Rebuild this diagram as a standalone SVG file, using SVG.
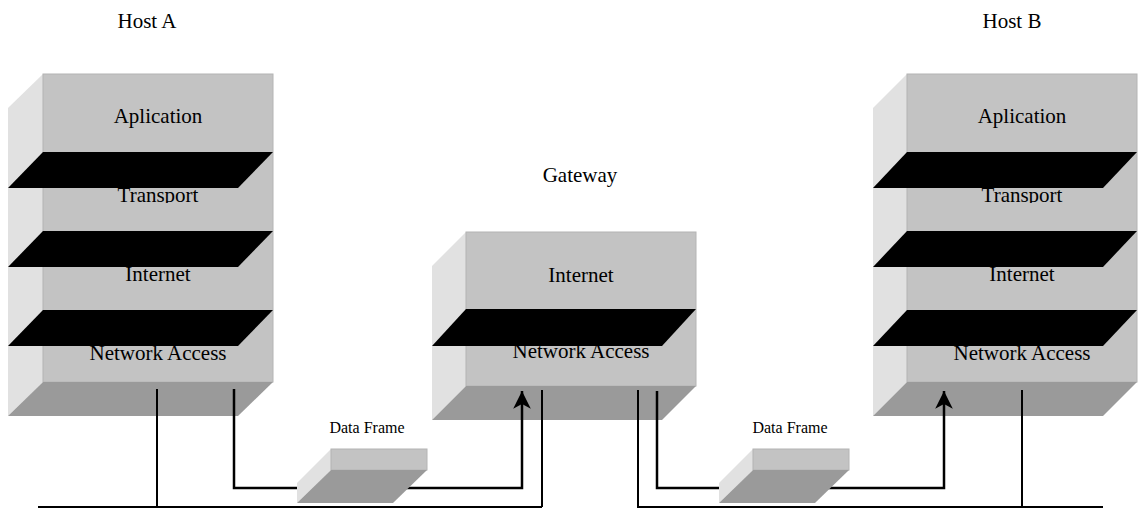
<svg xmlns="http://www.w3.org/2000/svg" width="1138" height="510" viewBox="0 0 1138 510">
<defs>
<style>
.front{fill:#c3c3c3;stroke:#b4b4b4;stroke-width:1}
.side{fill:#e1e1e1}
.bottom{fill:#9a9a9a}
.band{fill:#000}
.lbl{font-family:"Liberation Serif","Times New Roman",serif;font-size:21px;fill:#000;text-anchor:middle}
.small{font-family:"Liberation Serif","Times New Roman",serif;font-size:16px;fill:#000;text-anchor:middle}
.ln{fill:none;stroke:#000;stroke-width:2}
.arr{fill:none;stroke:#000;stroke-width:2.5}
</style>
<marker id="ah" markerUnits="userSpaceOnUse" markerWidth="20" markerHeight="20" viewBox="-16 -8 17 16" refX="0" refY="0" orient="auto">
<path d="M0,0 L-15,-7.5 L-11,0 L-15,7.5 Z" fill="#000"/>
</marker>
<clipPath id="clipA"><rect x="0" y="188" width="300" height="15"/></clipPath>
<clipPath id="clipB"><rect x="860" y="188" width="278" height="15"/></clipPath>
</defs>
<rect width="1138" height="510" fill="#fff"/>

<g id="label-hostA"><text class="lbl" x="147" y="28">Host A</text></g>
<g id="label-hostB"><text class="lbl" x="1012" y="28">Host B</text></g>
<g id="label-gateway"><text class="lbl" x="580" y="182">Gateway</text></g>

<g id="hostA">
<polygon class="side" points="43,74 43,382 8,416 8,108"/>
<rect class="front" x="43" y="74" width="230" height="308"/>
<polygon class="bottom" points="43,382 273,382 238,416 8,416"/>
<text class="lbl" x="158" y="123">Aplication</text>
<text class="lbl" x="158" y="202" clip-path="url(#clipA)">Transport</text>
<text class="lbl" x="158" y="281">Internet</text>
<text class="lbl" x="158" y="360">Network Access</text>
<polygon class="band" points="43,152 273,152 238,188 8,188"/>
<polygon class="band" points="43,231 273,231 238,267 8,267"/>
<polygon class="band" points="43,310 273,310 238,346 8,346"/>
</g>

<g id="gateway">
<polygon class="side" points="466,232 466,386 432,420 432,266"/>
<rect class="front" x="466" y="232" width="230" height="154"/>
<polygon class="bottom" points="466,386 696,386 662,420 432,420"/>
<text class="lbl" x="581" y="282">Internet</text>
<text class="lbl" x="581" y="358">Network Access</text>
<polygon class="band" points="466,309 696,309 662,346 432,346"/>
</g>

<g id="hostB">
<polygon class="side" points="907,74 907,382 873,416 873,108"/>
<rect class="front" x="907" y="74" width="230" height="308"/>
<polygon class="bottom" points="907,382 1137,382 1103,416 873,416"/>
<text class="lbl" x="1022" y="123">Aplication</text>
<text class="lbl" x="1022" y="202" clip-path="url(#clipB)">Transport</text>
<text class="lbl" x="1022" y="281">Internet</text>
<text class="lbl" x="1022" y="360">Network Access</text>
<polygon class="band" points="907,152 1137,152 1103,188 873,188"/>
<polygon class="band" points="907,231 1137,231 1103,267 873,267"/>
<polygon class="band" points="907,310 1137,310 1103,346 873,346"/>
</g>

<g id="connectors">
<line class="ln" x1="38" y1="507" x2="542" y2="507"/>
<line class="ln" x1="637" y1="507" x2="1103" y2="507"/>
<line class="ln" x1="157" y1="389" x2="157" y2="507"/>
<line class="ln" x1="542" y1="390" x2="542" y2="507"/>
<line class="ln" x1="638" y1="390" x2="638" y2="507"/>
<line class="ln" x1="1022" y1="390" x2="1022" y2="507"/>
<polyline class="arr" points="234,389 234,488 300,488"/>
<polyline class="arr" points="405,488 522,488 522,391" marker-end="url(#ah)"/>
<polyline class="arr" points="657,391 657,488 722,488"/>
<polyline class="arr" points="827,488 944,488 944,391" marker-end="url(#ah)"/>
</g>

<g id="dataframe1">
<text class="small" x="367" y="433">Data Frame</text>
<polygon class="side" points="331,449 331,470 297,503 297,483"/>
<rect class="front" x="331" y="449" width="96" height="21"/>
<polygon class="bottom" points="331,470 427,470 393,503 297,503"/>
</g>

<g id="dataframe2">
<text class="small" x="790" y="433">Data Frame</text>
<polygon class="side" points="753,449 753,470 719,503 719,483"/>
<rect class="front" x="753" y="449" width="96" height="21"/>
<polygon class="bottom" points="753,470 849,470 815,503 719,503"/>
</g>
</svg>
